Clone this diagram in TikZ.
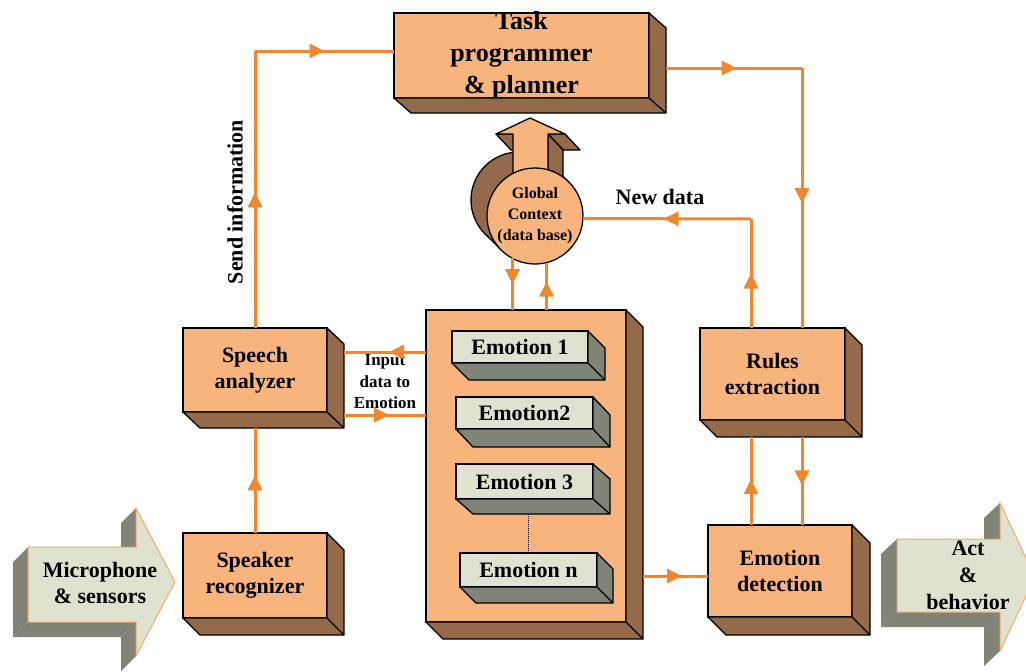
\documentclass[tikz,border=0pt]{standalone}
\usepackage{fontspec}
\setmainfont{Liberation Serif}
\usetikzlibrary{calc,arrows.meta,decorations.markings}

\definecolor{boxfront}{RGB}{247,180,124}
\definecolor{boxside}{RGB}{148,106,74}
\definecolor{pale}{RGB}{222,226,206}
\definecolor{paleside}{RGB}{128,132,118}
\definecolor{flowc}{RGB}{240,135,45}
\definecolor{rim}{RGB}{240,170,110}

% bottom and right faces of a box whose front face is node #1
\newcommand\slab[4]{%
  \filldraw[fill=#4, draw=black, line width=1.3pt, line join=round]
    (#1.north east) -- ++(#2,#3) -- ($(#1.south east)+(#2,#3)$)
    -- ($(#1.south west)+(#2,#3)$) -- (#1.south west) -- (#1.south east) -- cycle;
  \draw[line width=1.3pt] (#1.south east) -- ++(#2,#3);}

\tikzset{
  block/.style={draw=black, line width=1.3pt, fill=boxfront, inner sep=0pt,
    outer sep=0pt, align=center, font=\fontsize{22}{26}\selectfont\bfseries},
  tag/.style={draw=black, line width=1.3pt, fill=pale, inner sep=0pt,
    outer sep=0pt, font=\fontsize{22}{26}\selectfont\bfseries},
  plaintext/.style={inner sep=0pt, align=center, font=\fontsize{22}{26}\selectfont\bfseries},
  flow/.style={draw=flowc, line width=3pt},
  midarrow/.style={postaction={decorate}, decoration={markings,
    mark=at position #1 with {\arrow[flowc]{Triangle[length=15pt,width=14pt]}}}},
  sideface/.style={fill=boxside, draw=black, line width=1.3pt, line join=round},
  greyface/.style={fill=paleside},
  bigarrow/.style={fill=pale, draw=rim, line width=1pt, line join=miter},
}

\begin{document}
\begin{tikzpicture}[x=1pt, y=-1pt]
\useasboundingbox (0,0) rectangle (1026,672);

% ---------- task programmer ----------
\node[block, minimum width=255, minimum height=85, inner ysep=-6pt,
      font=\fontsize{26}{32}\selectfont\bfseries] (task) at (521.5,55.5)
      {Task\\programmer\\\& planner};
\slab{task}{17}{15}{boxside}

% ---------- global context cylinder and up arrow ----------
\filldraw[fill=boxside, draw=black, line width=1.3pt] (519,200) circle (48);
\fill[boxside] (568.9,182.1) -- (552.9,166.1) -- (485.1,233.9) -- (501.1,249.9) -- cycle;
\draw[line width=1.3pt] (568.9,182.1) -- (552.9,166.1) (485.1,233.9) -- (501.1,249.9);
\filldraw[sideface] (513,134) -- (496,134) -- (511,150) -- (528,150) -- cycle;
\filldraw[sideface] (565,134) -- (548,134) -- (563,150) -- (580,150) -- cycle;
\filldraw[sideface] (548,134) -- (548,200) -- (563,216) -- (563,150) -- cycle;
\filldraw[fill=boxfront, draw=black, line width=1.3pt, line join=round]
  (513,200) -- (513,134) -- (496,134) -- (530,118) -- (565,134) -- (548,134) -- (548,200) -- cycle;
\node[circle, draw=black, line width=1.3pt, fill=boxfront, minimum size=96, inner sep=0pt,
      outer sep=0pt, align=center, font=\fontsize{16}{21}\selectfont\bfseries]
      (gc) at (535,216) {Global\\Context\\(data base)};

% ---------- left column ----------
\node[block, minimum width=144, minimum height=84] (speech) at (255,370) {Speech\\analyzer};
\slab{speech}{17}{16}{boxside}
\node[block, minimum width=144, minimum height=85] (speaker) at (255,575.5) {Speaker\\recognizer};
\slab{speaker}{17}{17}{boxside}

% ---------- emotion container ----------
\node[block, minimum width=200, minimum height=312] (emo) at (526,466) {};
\slab{emo}{17}{17}{boxside}
\node[tag, minimum width=136, minimum height=32] (e1) at (520,347) {Emotion 1};
\slab{e1}{17}{17}{paleside}
\node[tag, minimum width=137, minimum height=32] (e2) at (524.5,413) {Emotion2};
\slab{e2}{17}{18}{paleside}
\node[tag, minimum width=137, minimum height=35] (e3) at (524.5,481.5) {Emotion 3};
\slab{e3}{17}{15}{paleside}
\node[tag, minimum width=137, minimum height=34] (en) at (528.5,570) {Emotion n};
\slab{en}{16}{16}{paleside}
\draw[densely dotted, line width=1pt] ($(e3.south -| en.north)+(0,15)$) -- (en.north);

% ---------- right column ----------
\node[block, minimum width=145, minimum height=92] (rules) at (772.5,374) {Rules\\extraction};
\slab{rules}{17}{17}{boxside}
\node[block, minimum width=144, minimum height=92] (emodet) at (780,571) {Emotion\\detection};
\slab{emodet}{18}{18}{boxside}

% ---------- input arrow ----------
\fill[greyface] (28,622) -- (28,547) -- (13,562) -- (13,637) -- cycle;
\fill[greyface] (136,622) -- (28,622) -- (13,637) -- (121,637) -- cycle;
\fill[greyface] (136,547) -- (136,508) -- (121,523) -- (121,562) -- cycle;
\fill[greyface] (136,656) -- (136,622) -- (121,637) -- (121,671) -- cycle;
\filldraw[bigarrow] (28,547) -- (136,547) -- (136,508) -- (175,582) -- (136,656)
  -- (136,622) -- (28,622) -- cycle;
\node[plaintext] (mic) at (100,583) {Microphone\\\& sensors};

% ---------- output arrow ----------
\fill[greyface] (897,612) -- (897,539) -- (881,554) -- (881,627) -- cycle;
\fill[greyface] (1000,612) -- (897,612) -- (881,627) -- (984,627) -- cycle;
\fill[greyface] (1000,539) -- (1000,503) -- (984,518) -- (984,554) -- cycle;
\fill[greyface] (1000,651) -- (1000,612) -- (984,627) -- (984,666) -- cycle;
\filldraw[bigarrow] (897,539) -- (1000,539) -- (1000,503) -- (1035,577) -- (1000,651)
  -- (1000,612) -- (897,612) -- cycle;
\node[plaintext, font=\fontsize{22}{27}\selectfont\bfseries] (act) at (968,575) {Act\\\&\\behavior};

% ---------- labels ----------
\node[plaintext, rotate=90] (send) at (235,202) {Send information};
\node[plaintext] (newdata) at (660,197) {New data};
\node[plaintext, font=\fontsize{17}{21.5}\selectfont\bfseries] (input) at (385,382)
  {Input\\data to\\Emotion};

% ---------- connectors ----------
% speech analyzer -> task planner
\coordinate (c1) at (speech.north |- 0,51);
\draw[flow, midarrow=0.49] (speech.north) -- (c1);
\draw[flow, midarrow=0.5] (c1) -- (c1 -| task.west);
% task planner -> rules extraction
\coordinate (c2) at (802,68);
\draw[flow, midarrow=0.52] ($(task.east)+(17,12.5)$) -- (c2);
\draw[flow, midarrow=0.52] (c2) -- (c2 |- rules.north);
% rules extraction -> global context (new data)
\coordinate (c3) at (751,219);
\draw[flow, midarrow=0.5] (c3 |- rules.north) -- (c3);
\draw[flow, midarrow=0.52] (c3) -- (gc.-3.6);
% emotion detection <-> rules extraction
\draw[flow, midarrow=0.52] (emodet.north -| c3) -- ($(rules.south -| c3)+(0,17)$);
\draw[flow, midarrow=0.55] ($(rules.south -| c2)+(0,17)$) -- (emodet.north -| c2);
% emotions -> emotion detection
\coordinate (c4) at ($(emo.south east)+(17,-46)$);
\draw[flow, midarrow=0.6] (c4) -- (c4 -| emodet.west);
% global context <-> emotions
\draw[flow, midarrow=0.5] (gc.242.7) -- (gc.242.7 |- emo.north);
\draw[flow, midarrow=0.6] (emo.north -| gc.284.5) -- (gc.284.5);
% emotions <-> speech analyzer
\coordinate (c5) at ($(speech.east)+(17,-18)$);
\coordinate (c6) at ($(speech.east)+(17,45)$);
\draw[flow, midarrow=0.45] (c5 -| emo.west) -- (c5);
\draw[flow, midarrow=0.55] (c6) -- (c6 -| emo.west);
% speaker recognizer -> speech analyzer
\draw[flow, midarrow=0.55] (speaker.north) -- ($(speech.south)+(0,16)$);
\end{tikzpicture}
\end{document}
